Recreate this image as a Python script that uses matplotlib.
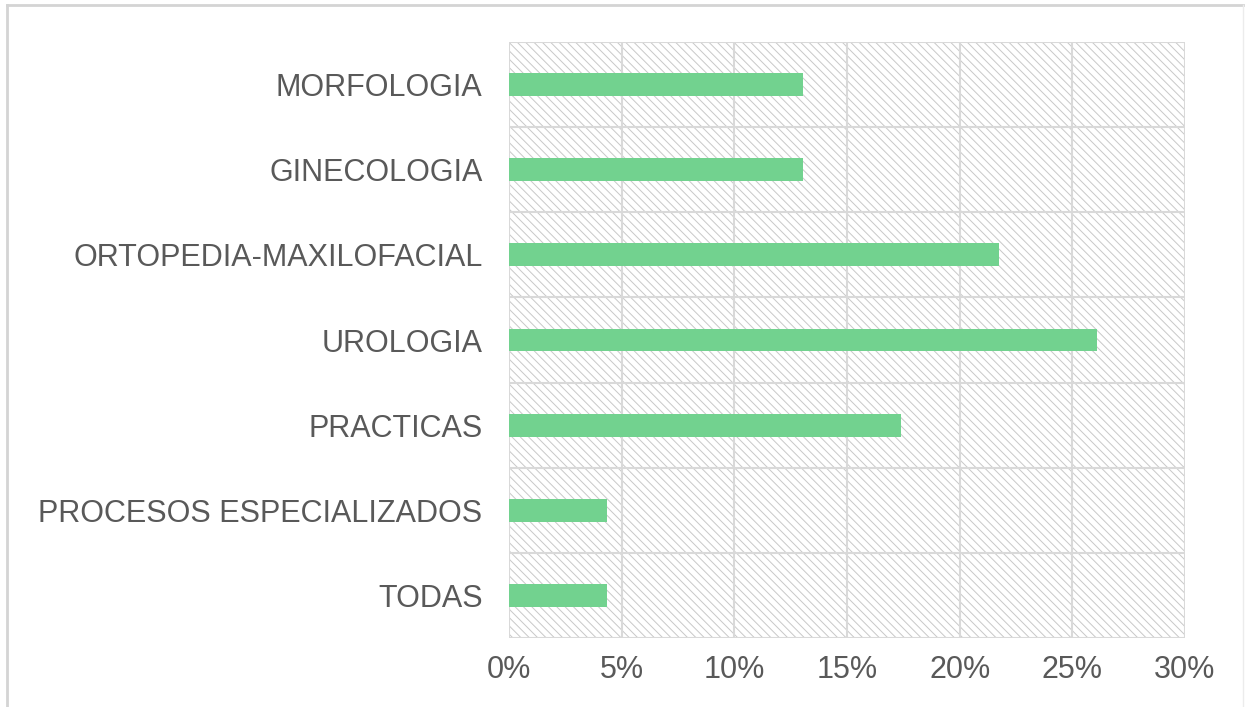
import matplotlib
matplotlib.use("Agg")
import matplotlib.pyplot as plt
from matplotlib.patches import Rectangle
from matplotlib.ticker import FuncFormatter

categories = ["MORFOLOGIA", "GINECOLOGIA", "ORTOPEDIA-MAXILOFACIAL", "UROLOGIA",
              "PRACTICAS", "PROCESOS ESPECIALIZADOS", "TODAS"]
values = [13.04, 13.04, 21.74, 26.09, 17.39, 4.35, 4.35]
xticks = [0, 5, 10, 15, 20, 25, 30]

plt.rcParams['font.family'] = ['Liberation Sans', 'DejaVu Sans']
plt.rcParams['hatch.linewidth'] = 0.7
plt.rcParams['hatch.color'] = '#c8c8c8'

fig = plt.figure(figsize=(12.51, 7.07), dpi=100)
ax = fig.add_axes([509/1251, 1-638/707, (1185-509)/1251, (638-42)/707])

n = len(categories)
ypos = list(range(n))[::-1]

ax.set_xlim(0, 30)
ax.set_ylim(-0.5, n - 0.5)

# hatched background
bg = Rectangle((0, 0), 1, 1, transform=ax.transAxes, facecolor='white',
               edgecolor='#c8c8c8', hatch='\\\\\\\\', linewidth=0, zorder=0)
ax.add_patch(bg)

# gridlines
for xv in xticks:
    ax.axvline(xv, color='#d9d9d9', linewidth=1.5, zorder=1)
for k in range(n + 1):
    ax.axhline(k - 0.5, color='#d9d9d9', linewidth=1.5, zorder=1)

ax.barh(ypos, values, height=0.27, color='#72D28F', zorder=3)

ax.set_yticks(ypos)
ax.set_yticklabels(categories)
ax.set_xticks(xticks)
ax.xaxis.set_major_formatter(FuncFormatter(lambda v, p: f"{int(v)}%"))
ax.tick_params(axis='y', length=0, pad=19, labelsize=22, labelcolor='#595959')
ax.tick_params(axis='x', length=0, pad=12, labelsize=22, labelcolor='#595959')
for s in ax.spines.values():
    s.set_visible(False)

# figure border
fig.add_artist(plt.Line2D([7/1251, 7/1251], [0, 1-5/707], transform=fig.transFigure,
                          color='#d4d4d4', linewidth=2))
fig.add_artist(plt.Line2D([7/1251, 1243/1251], [1-5/707, 1-5/707], transform=fig.transFigure,
                          color='#d4d4d4', linewidth=2))
fig.add_artist(plt.Line2D([1243/1251, 1243/1251], [0, 1-5/707], transform=fig.transFigure,
                          color='#ececec', linewidth=1))

fig.savefig("out.png", dpi=100)
